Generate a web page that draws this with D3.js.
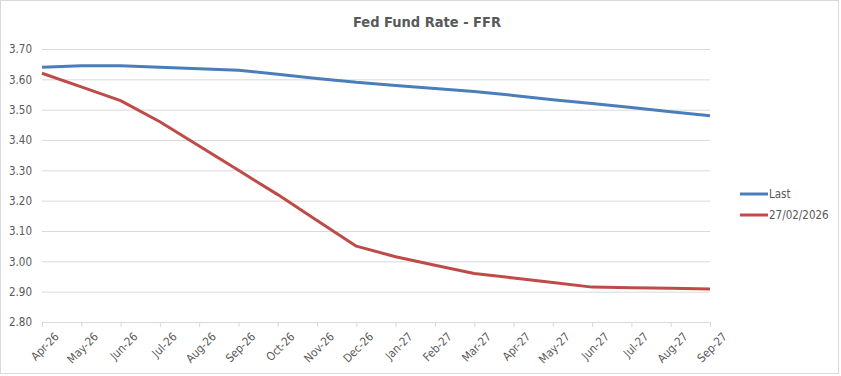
<!DOCTYPE html>
<html>
<head>
<meta charset="utf-8">
<style>
body { margin:0; background:#fff; }
.title { font-family: "DejaVu Sans Condensed", sans-serif; font-size:14.5px; font-weight:bold; fill:#595959; }
.tick text, .lg { font-family: "DejaVu Sans Condensed", sans-serif; font-size:11.5px; fill:#595959; }
</style>
<script src="https://d3js.org/d3.v7.min.js"></script>
</head>
<body>
<script>

var months = ["Apr-26","May-26","Jun-26","Jul-26","Aug-26","Sep-26","Oct-26","Nov-26","Dec-26",
              "Jan-27","Feb-27","Mar-27","Apr-27","May-27","Jun-27","Jul-27","Aug-27","Sep-27"];
var last = [3.64,3.645,3.645,3.64,3.635,3.63,3.617,3.603,3.59,3.58,3.57,3.56,3.547,3.533,3.52,3.507,3.493,3.48];
var feb27 = [3.62,3.575,3.53,3.46,3.38,3.30,3.22,3.135,3.05,3.015,2.987,2.96,2.945,2.93,2.915,2.913,2.911,2.909];
var yTicks = [2.80,2.90,3.00,3.10,3.20,3.30,3.40,3.50,3.60,3.70];
var seriesNames = ["Last","27/02/2026"];
var colors = ["#4a7ebb","#be4b48"];

var width = 841, height = 376;

var svg = d3.select("body").append("svg")
    .attr("width", width)
    .attr("height", height);

svg.append("rect")
    .attr("x", 0.5).attr("y", 0.5)
    .attr("width", width - 3).attr("height", height - 3)
    .attr("fill", "#fff").attr("stroke", "#d9d9d9");

var x = d3.scalePoint().domain(months).range([42, 710]);
var y = d3.scaleLinear().domain([2.8, 3.7]).range([322, 49]);

svg.append("text")
    .attr("class", "title")
    .attr("x", 427).attr("y", 27)
    .attr("text-anchor", "middle")
    .text("Fed Fund Rate - FFR");

// gridlines + y labels
var ya = svg.append("g")
    .attr("transform", "translate(42,0)")
    .call(d3.axisLeft(y).tickValues(yTicks).tickFormat(d3.format(".2f")).tickSize(-668).tickPadding(10));
ya.select(".domain").remove();
ya.selectAll(".tick line").attr("stroke", "#d9d9d9");

// x axis
var xa = svg.append("g")
    .attr("transform", "translate(0,322)")
    .call(d3.axisBottom(x).tickSize(5).tickPadding(4));
xa.select(".domain").attr("stroke", "#d9d9d9");
xa.selectAll(".tick line").attr("stroke", "#d9d9d9");
xa.selectAll(".tick text")
    .attr("text-anchor", "end")
    .attr("dy", "0.6em")
    .attr("transform", "translate(6,4) rotate(-45)");

var line = d3.line()
    .x(function(d, i) { return x(months[i]); })
    .y(function(d) { return y(d); });

[last, feb27].forEach(function(s, k) {
  svg.append("path")
    .attr("d", line(s))
    .attr("fill", "none")
    .attr("stroke", colors[k])
    .attr("stroke-width", 3)
    .attr("stroke-linejoin", "round");
});

// legend
seriesNames.forEach(function(n, k) {
  var ly = 194 + k * 21;
  svg.append("line")
    .attr("x1", 740).attr("x2", 768)
    .attr("y1", ly).attr("y2", ly)
    .attr("stroke", colors[k]).attr("stroke-width", 3);
  svg.append("text")
    .attr("class", "lg")
    .attr("x", 769).attr("y", ly + 4)
    .text(n);
});

</script>
</body>
</html>
